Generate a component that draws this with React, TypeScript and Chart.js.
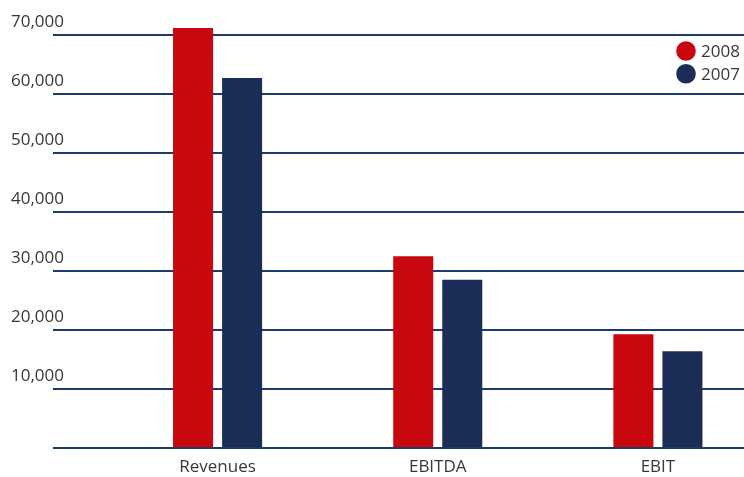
import React, { useEffect, useRef } from "react";
import { Chart, registerables } from "chart.js";

Chart.register(...registerables);

const categories = ["Revenues", "EBITDA", "EBIT"];
const seriesLabels = ["2008", "2007"];
const values2008 = [71200, 32500, 19300];
const values2007 = [62700, 28500, 16400];
const yTicks = [0, 10000, 20000, 30000, 40000, 50000, 60000, 70000];

const RED = "#c8070f";
const NAVY = "#1b2c56";
const GRID = "#1a3b6c";
const TEXT = "#383838";
const FONT = "'Open Sans'";

const legendPlugin = {
  id: "cornerLegend",
  afterDraw(chart: any) {
    const ctx = chart.ctx;
    ctx.save();
    chart.data.datasets.forEach((ds: any, i: number) => {
      const cy = 51 + i * 22.7;
      ctx.beginPath();
      ctx.fillStyle = ds.backgroundColor;
      ctx.arc(686, cy, 9.8, 0, Math.PI * 2);
      ctx.fill();
      ctx.fillStyle = TEXT;
      ctx.font = `400 17px ${FONT}`;
      ctx.textBaseline = "middle";
      ctx.textAlign = "left";
      ctx.fillText(ds.label, 701, cy + 1.5);
    });
    ctx.restore();
  },
};

export default function App() {
  const ref = useRef<HTMLCanvasElement>(null);
  useEffect(() => {
    if (!ref.current) return;
    const chart = new Chart(ref.current, {
      type: "bar",
      data: {
        labels: categories,
        datasets: [
          { label: seriesLabels[0], data: values2008, backgroundColor: RED, clip: false as any },
          { label: seriesLabels[1], data: values2007, backgroundColor: NAVY, clip: false as any },
        ],
      },
      options: {
        animation: false,
        responsive: false,
        devicePixelRatio: 1,
        layout: { padding: { top: 35, left: 11, right: 0, bottom: 0 } },
        datasets: {
          bar: { categoryPercentage: 98 / 220, barPercentage: 40 / 49 },
        },
        plugins: {
          legend: { display: false },
          tooltip: { enabled: false },
        },
        scales: {
          x: {
            grid: { display: false },
            border: { display: false },
            ticks: {
              color: TEXT,
              font: { family: FONT, size: 17, weight: "400" as any },
              padding: 1,
            },
            afterFit(scale: any) {
              scale.height = 29;
            },
          },
          y: {
            min: 0,
            max: 70000,
            afterBuildTicks(scale: any) {
              scale.ticks = yTicks.map((v) => ({ value: v }));
            },
            border: { display: false },
            grid: {
              color: GRID,
              lineWidth: 2,
              drawTicks: true,
              tickLength: 54.5,
            },
            ticks: {
              color: TEXT,
              font: { family: FONT, size: 17, weight: "400" as any },
              crossAlign: "far",
              labelOffset: -13,
              callback: (v: any) => (v === 0 ? "" : Number(v).toLocaleString("en-US")),
            },
            afterFit(scale: any) {
              scale.width = 96.5;
            },
          },
        },
      },
      plugins: [legendPlugin],
    });
    return () => chart.destroy();
  }, []);
  return (
    <div
      style={{
        position: "fixed",
        left: 0,
        top: 0,
        width: 744,
        height: 477,
        overflow: "hidden",
        background: "#fff",
      }}
    >
      <canvas ref={ref} width={768} height={477} style={{ width: 768, height: 477, display: "block" }} />
    </div>
  );
}
